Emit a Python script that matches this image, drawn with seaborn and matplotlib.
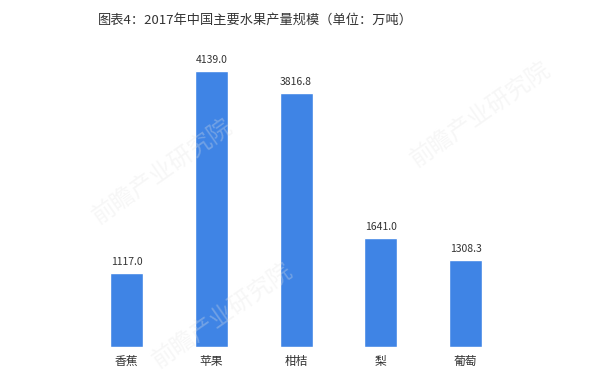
import pandas as pd
import matplotlib.pyplot as plt
import seaborn as sns

fruits = ['香蕉', '苹果', '柑桔', '梨', '葡萄']
output = [1117.0, 4139.0, 3816.8, 1641.0, 1308.3]

df = pd.DataFrame({'fruit': fruits, 'output': output})

sns.set_theme(style='white')
plt.rcParams['font.family'] = ['Noto Sans CJK SC', 'DejaVu Sans']

fig = plt.figure(figsize=(6, 3.8), dpi=100)
ax = fig.add_axes([0.14, 0.087, 0.707, 0.789])

sns.barplot(data=df, x='fruit', y='output', color='#3F84E5',
            saturation=1, width=0.39, ax=ax)

for i, v in enumerate(output):
    ax.text(i, v + 90, f'{v:.1f}', ha='center', va='bottom',
            fontsize=7.5, color='#333333')

ax.set_ylim(0, 4500)
ax.set_xlim(-0.5, 4.5)
ax.set_xlabel('')
ax.set_ylabel('')
ax.set_yticks([])
ax.tick_params(axis='x', length=0, labelsize=8.5, colors='#333333', pad=6)
sns.despine(ax=ax, left=True, bottom=True)

# faint watermark
for x, y in [(0.27, 0.55), (0.8, 0.7), (0.37, 0.17)]:
    fig.text(x, y, '前瞻产业研究院', fontsize=17, color='#e4e4e4',
             alpha=0.3, rotation=35, ha='center', va='center', zorder=0)

fig.text(0.425, 0.947, '图表4：2017年中国主要水果产量规模（单位：万吨）',
         ha='center', va='center', fontsize=9.5, color='#333333')

plt.savefig('out.png', dpi=100)
